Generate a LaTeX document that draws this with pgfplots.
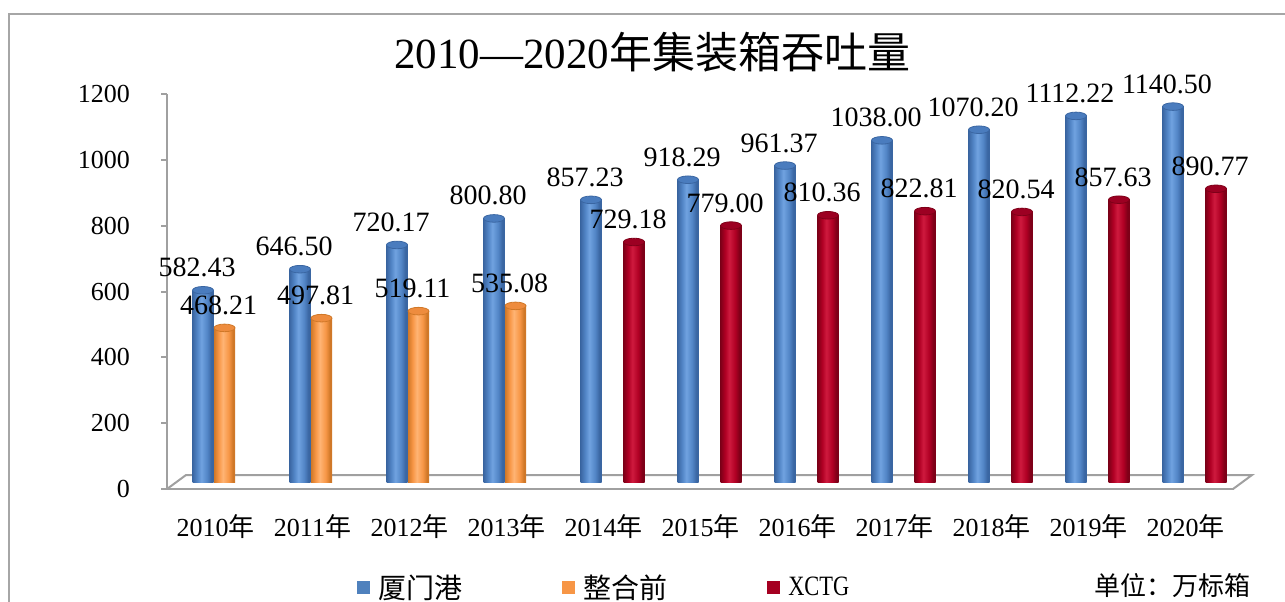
\documentclass[border=0pt]{standalone}
\usepackage{fontspec}
\setmainfont{Liberation Serif}
\newfontfamily\cjk{Noto Sans CJK SC}
\usepackage{pgfplots}
\pgfplotsset{compat=1.18}
\definecolor{frameC}{HTML}{A6A6A6}
\definecolor{axisC}{HTML}{A0A0A0}
\definecolor{blueE}{HTML}{3A66A2}
\definecolor{blueM}{HTML}{5285C6}
\definecolor{blueH}{HTML}{70A2E0}
\definecolor{blueT}{HTML}{4A7CBE}
\definecolor{orangeE}{HTML}{D07828}
\definecolor{orangeM}{HTML}{F79646}
\definecolor{orangeH}{HTML}{FFB474}
\definecolor{orangeT}{HTML}{EE8C3E}
\definecolor{redE}{HTML}{7E0018}
\definecolor{redM}{HTML}{B00024}
\definecolor{redH}{HTML}{CE1A3E}
\definecolor{redT}{HTML}{9C0022}
\definecolor{legBlue}{HTML}{4F81BD}
\definecolor{legOrange}{HTML}{F79646}
\definecolor{legRed}{HTML}{A50021}
\pgfdeclarehorizontalshading{bluecyl}{100bp}{color(0bp)=(blueE); color(25bp)=(blueE); color(36bp)=(blueM); color(46bp)=(blueH); color(60bp)=(blueM); color(70bp)=(blueE); color(75bp)=(blueE); color(100bp)=(blueE)}
\pgfdeclarehorizontalshading{orangecyl}{100bp}{color(0bp)=(orangeE); color(25bp)=(orangeE); color(36bp)=(orangeM); color(46bp)=(orangeH); color(60bp)=(orangeM); color(70bp)=(orangeE); color(75bp)=(orangeE); color(100bp)=(orangeE)}
\pgfdeclarehorizontalshading{redcyl}{100bp}{color(0bp)=(redE); color(25bp)=(redE); color(36bp)=(redM); color(46bp)=(redH); color(60bp)=(redM); color(70bp)=(redE); color(75bp)=(redE); color(100bp)=(redE)}
\pgfdeclareplotmark{cyltop}{%
  \pgfpathellipse{\pgfpointorigin}{\pgfqpoint{5.25pt}{0pt}}{\pgfqpoint{0pt}{1.9pt}}%
  \pgfusepathqfillstroke}
\pgfplotsset{
  bb/.style={forget plot, ybar, bar shift=-6.25pt, yshift=3.5pt, draw=none,
    shade, shading=bluecyl,
    mark=cyltop, mark options={xshift=-6.25pt, fill=blueT, draw=blueE, line width=0.4pt}},
  ob/.style={forget plot, ybar, bar shift=4.5pt, yshift=3.5pt, draw=none,
    shade, shading=orangecyl,
    mark=cyltop, mark options={xshift=4.5pt, fill=orangeT, draw=orangeE, line width=0.4pt}},
  rb/.style={forget plot, ybar, bar shift=15.25pt, yshift=3.5pt, draw=none,
    shade, shading=redcyl,
    mark=cyltop, mark options={xshift=15.25pt, fill=redT, draw=redE, line width=0.4pt}},
}
\begin{document}
\begin{tikzpicture}[x=0.5pt,y=-0.5pt]
\useasboundingbox (0,0) rectangle (1285,601);
\clip (0,0) rectangle (1285,601);
\draw[frameC, line width=1pt] (9,14) rectangle (1300,620);
\draw[axisC, line width=1pt] (167,489) -- (186,475) -- (1252,475) -- (1233,489);
\node[anchor=base, font=\fontsize{21.5}{25}\selectfont] at (652,68) {2010—2020{\cjk 年集装箱吞吐量}};
\node[anchor=west, font=\fontsize{13}{15}\selectfont\cjk] at (1087,586) {单位：万标箱};
\begin{axis}[
  at={(83.5pt,-244.5pt)}, anchor=south west,
  scale only axis, width=533.5pt, height=197.5pt,
  xmin=-0.5, xmax=10.5, ymin=0, ymax=1200,
  axis x line*=bottom, axis y line*=left,
  axis line style={axisC, line width=1pt},
  xtick={0,...,10},
  xticklabels={2010{\cjk 年},2011{\cjk 年},2012{\cjk 年},2013{\cjk 年},2014{\cjk 年},2015{\cjk 年},2016{\cjk 年},2017{\cjk 年},2018{\cjk 年},2019{\cjk 年},2020{\cjk 年}},
  x tick style={draw=none},
  ytick={0,200,...,1200},
  y tick style={axisC, line width=1pt},
  tick align=outside, major tick length=3pt,
  tick label style={font=\fontsize{13}{15}\selectfont},
  /pgf/number format/assume math mode=true,
  /pgf/number format/1000 sep={},
  yticklabel style={xshift=-12pt},
  xticklabel style={yshift=-6pt},
  bar width=10.5pt,
  nodes near coords={\pgfmathprintnumber[fixed,fixed zerofill,precision=2,1000 sep={},assume math mode=true]{\pgfplotspointmeta}},
  every node near coord/.append style={font=\fontsize{14}{16}\selectfont, anchor=base, yshift=6.75pt, xshift=-3pt, text=black},
  legend image code/.code={\fill[#1] (0pt,-3.25pt) rectangle (6.5pt,3.25pt);},
  legend style={draw=none, fill=none, at={(0.178,-0.2506)}, anchor=west, legend columns=3,
    font=\fontsize{14}{16}\selectfont\cjk, inner sep=0pt,
    /tikz/every odd column/.append style={column sep=2pt},
    /tikz/every even column/.append style={column sep=48pt}},
]
\addlegendimage{fill=legBlue, draw=none}
\addlegendentry{厦门港}
\addlegendimage{fill=legOrange, draw=none}
\addlegendentry{整合前}
\addlegendimage{fill=legRed, draw=none}
\addlegendentry{\rmfamily\scalebox{0.8}[1]{XCTG}}
% 厦门港
\addplot[bb] coordinates {(0,582.43)};
\addplot[bb] coordinates {(1,646.50)};
\addplot[bb] coordinates {(2,720.17)};
\addplot[bb] coordinates {(3,800.80)};
\addplot[bb] coordinates {(4,857.23)};
\addplot[bb] coordinates {(5,918.29)};
\addplot[bb] coordinates {(6,961.37)};
\addplot[bb] coordinates {(7,1038.00)};
\addplot[bb] coordinates {(8,1070.20)};
\addplot[bb] coordinates {(9,1112.22)};
\addplot[bb] coordinates {(10,1140.50)};
% 整合前
\addplot[ob] coordinates {(0,468.21)};
\addplot[ob] coordinates {(1,497.81)};
\addplot[ob] coordinates {(2,519.11)};
\addplot[ob] coordinates {(3,535.08)};
% XCTG
\addplot[rb] coordinates {(4,729.18)};
\addplot[rb] coordinates {(5,779.00)};
\addplot[rb] coordinates {(6,810.36)};
\addplot[rb] coordinates {(7,822.81)};
\addplot[rb] coordinates {(8,820.54)};
\addplot[rb] coordinates {(9,857.63)};
\addplot[rb] coordinates {(10,890.77)};
\end{axis}
\end{tikzpicture}
\end{document}
